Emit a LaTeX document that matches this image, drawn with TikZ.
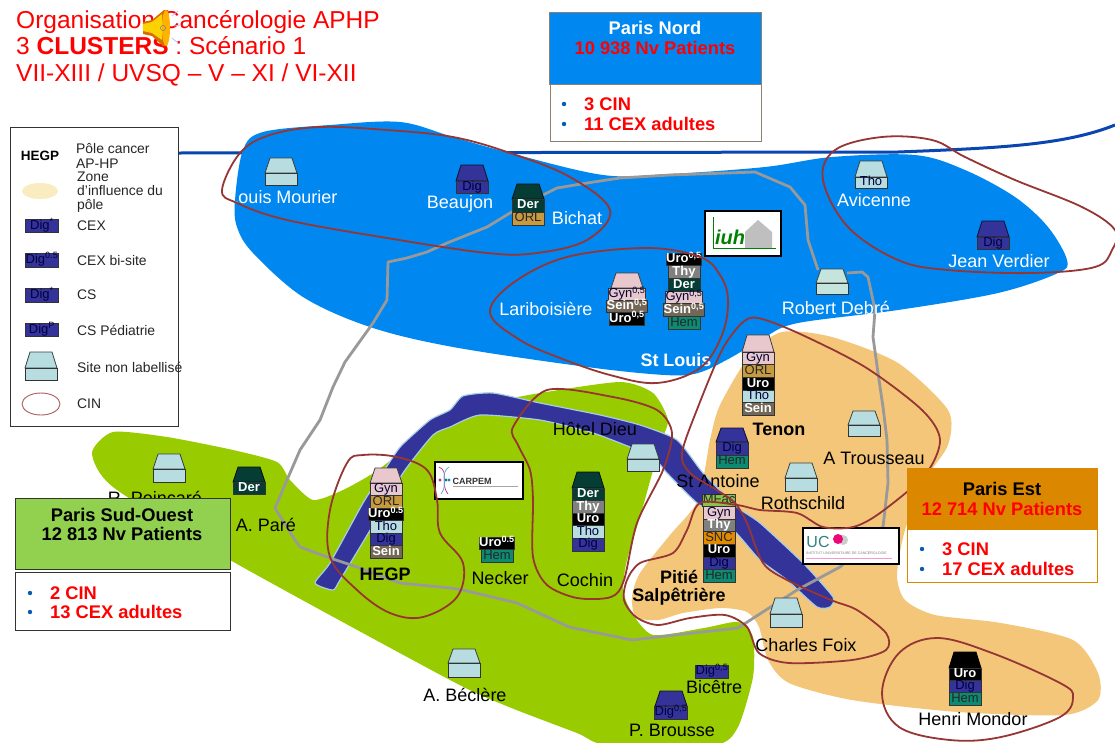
\documentclass[tikz,border=0pt]{standalone}
\usepackage{fontspec}
\setmainfont{Liberation Sans}
\definecolor{nordblue}{HTML}{0087F0}
\definecolor{sudgreen}{HTML}{99CC00}
\definecolor{estorange}{HTML}{F4C67A}
\definecolor{river}{HTML}{333399}
\definecolor{riveredge}{HTML}{A6CDE8}
\definecolor{road}{HTML}{999999}
\definecolor{cinred}{HTML}{963634}
\definecolor{railblue}{HTML}{0B45B0}
\definecolor{tgyn}{HTML}{E8C8CC}
\definecolor{torl}{HTML}{C89A40}
\definecolor{ttho}{HTML}{B8DDE0}
\definecolor{tsein}{HTML}{736858}
\definecolor{them}{HTML}{0C8A72}
\definecolor{tder}{HTML}{053D35}
\definecolor{tthy}{HTML}{808080}
\definecolor{tsnc}{HTML}{E08A00}
\definecolor{tmfac}{HTML}{8BC34A}
\definecolor{tdebre}{HTML}{C4E4DC}
\definecolor{boxsud}{HTML}{92D050}
\definecolor{boxest}{HTML}{DB8700}
\definecolor{bullet}{HTML}{0B5BB5}
\definecolor{edgegray}{HTML}{8C8070}
\definecolor{zonekey}{HTML}{F8ECC0}
\newcommand\fs[1]{\fontsize{#1}{#1}\selectfont}
\newcommand\demiv{\textsuperscript{0,5}}
\newcommand\demip{\textsuperscript{0.5}}
% stack of tags: name, left x, top y, row height, list style/text
\newcommand\stk[5]{\foreach \s/\t [count=\i from 0] in {#5}{\node[tg,\s,minimum height=#4] (#1-\i) at (#2+16,#3+\i*#4+#4/2) {\t};}}
% roof: left x, base y, height, colour
\newcommand\roofc[4]{\draw[fill=#4,draw=black!70!#4,line width=.8] (#1,#2) -- (#1+5,#2-#3) -- (#1+27,#2-#3) -- (#1+32,#2) -- cycle;}
\tikzset{
  x=1pt,y=-1pt,
  tg/.style={draw=black!80,line width=.8,minimum width=32,inner sep=0,text height=8.5,text depth=2,font=\fs{13}},
  gyn/.style={fill=tgyn,text=black!80!blue},
  orl/.style={fill=torl,text=black!85},
  uro/.style={fill=black,text=white,font=\fs{13}\bfseries},
  tho/.style={fill=ttho,text=black!75!blue},
  dig/.style={fill=river,text=black!75!blue},
  sein/.style={fill=tsein,text=white,font=\fs{13}\bfseries},
  hem/.style={fill=them,text=black!85},
  der/.style={fill=tder,text=white,font=\fs{13}\bfseries},
  thy/.style={fill=tthy,text=white,font=\fs{13}\bfseries},
  snc/.style={fill=tsnc,text=black!85},
  mfac/.style={fill=tmfac,text=black!85},
  emptytag/.style={fill=ttho},
  debretag/.style={fill=tdebre},
  lab/.style={font=\fs{18},inner sep=0},
  wlab/.style={lab,text=white},
  blab/.style={lab,font=\fs{18}\bfseries},
  legt/.style={font=\fs{13.9},anchor=west,inner sep=0,text=black!85},
  cin/.style={draw=cinred,line width=1.8},
  infot/.style={font=\fs{18.3}\bfseries,inner sep=0},
  infol/.style={font=\fs{18.3}\bfseries,text=red,anchor=west,inner sep=0},
  titl/.style={font=\fs{24.5},text=red,anchor=base west,inner sep=0},
  logo/.style={draw=black,line width=2.6,fill=white}
}
\begin{document}
\begin{tikzpicture}
\useasboundingbox (0,0) rectangle (1115,742);
\fill[white] (0,0) rectangle (1115,742);
% rail line
\draw[railblue,line width=3] (178,153) -- (898,152) .. controls (1000,148) and (1065,145) .. (1115,125);
% regions
\fill[nordblue] plot[smooth cycle,tension=.55] coordinates {(235,200) (243,150) (263,132) (330,125) (400,122) (453,137) (510,153) (603,175) (670,174) (765,167) (832,157) (915,155) (965,170) (1015,197) (1048,227) (1067,260) (1058,273) (998,293) (898,310) (798,323) (765,337) (732,357) (698,373) (665,375) (587,367) (453,347) (370,327) (303,297) (253,253) (237,227)};
\fill[sudgreen] plot[smooth cycle,tension=.4] coordinates {(92,453) (113,432) (167,437) (233,450) (277,462) (290,480) (313,500) (343,490) (375,472) (410,445) (440,420) (480,405) (540,393) (620,382) (653,393) (668,420) (660,445) (642,510) (627,560) (623,590) (632,613) (653,635) (704,628) (738,622) (753,637) (753,677) (738,727) (715,745) (607,745) (577,733) (509,707) (450,680) (230,560) (113,487)};
\fill[estorange] plot[smooth cycle,tension=.45] coordinates {(782,332) (832,337) (898,363) (948,410) (948,445) (925,480) (905,530) (897,575) (905,600) (935,615) (1001,623) (1073,640) (1098,673) (1098,700) (1064,715) (958,712) (852,700) (789,683) (768,660) (759,627) (747,612) (721,608) (683,613) (658,620) (636,617) (632,597) (640,573) (670,535) (698,500) (710,440) (720,405) (750,355)};
% river
\draw[riveredge,line width=1.2,fill=river] plot[smooth cycle,tension=.35] coordinates {(315,583) (330,563) (363,503) (378,480) (393,457) (402,445) (430,420) (450,410) (463,396) (493,393) (540,403) (600,415) (640,425) (677,440) (703,473) (737,507) (760,523) (803,563) (833,597) (830,607) (817,607) (787,580) (760,560) (740,537) (720,517) (697,503) (667,473) (653,457) (625,445) (590,432) (540,420) (480,415) (450,427) (433,435) (403,473) (372,527) (340,580) (333,590)};
% road
\draw[road,line width=2.8,line join=round] (847,273) -- (862,272) -- (868,277) -- (875,310) -- (873,337) -- (878,373) -- (883,407) -- (887,440) -- (888,483) -- (883,527) -- (840,567) -- (797,590) -- (755,617) -- (738,628) -- (675,635) -- (632,640) -- (569,627) -- (517,603) -- (463,590) -- (450,588) -- (400,583) -- (357,567) -- (330,558) -- (300,547) -- (293,537) -- (275,508) -- (287,480) -- (300,450) -- (320,420) -- (333,387) -- (345,362) -- (373,323) -- (387,300) -- (388,262) -- (407,258) -- (427,252) -- (447,243) -- (467,235) -- (487,227) -- (510,213) -- (543,195) -- (557,188) -- (587,183) -- (620,178) -- (670,175) -- (755,172) -- (790,187) -- (805,205) -- (808,240) -- (818,270);
% labels
\node[wlab] (lmourier) at (283,197) {Louis Mourier};
\node[wlab] (lbeaujon) at (460,204) {Beaujon};
\node[wlab] (lbichat) at (577,218) {Bichat};
\node[wlab] (lavicenne) at (874,200) {Avicenne};
\node[wlab] (lverdier) at (999,261) {Jean Verdier};
\node[wlab] (ldebre) at (836,308) {Robert Debré};
\node[wlab] (llarib) at (546,309) {Lariboisière};
\node[wlab,font=\fs{18}\bfseries] (lstlouis) at (676,360) {St Louis};
\node[blab] (ltenon) at (779,429) {Tenon};
\node[lab] (ltrousseau) at (874,458) {A Trousseau};
\node[lab] (lroth) at (803,503) {Rothschild};
\node[lab] (lantoine) at (718,481) {St Antoine};
\node[blab] (lpitie) at (679,577) {Pitié};
\node[blab] (lsalp) at (679,597) {Salpêtrière};
\node[blab] (lhegp) at (385,574) {HEGP};
\node[lab] (lnecker) at (500,578) {Necker};
\node[lab] (lcochin) at (585,580) {Cochin};
\node[lab] (lhoteld) at (595,429) {Hôtel Dieu};
\node[lab] (lpare) at (266,525) {A. Paré};
\node[lab] (lpoinc) at (155,498) {R. Poincaré};
\node[lab] (lbeclere) at (465,695) {A. Béclère};
\node[lab] (lfoix) at (806,645) {Charles Foix};
\node[lab] (lbicetre) at (714,687) {Bicêtre};
\node[lab] (lbrousse) at (672,730) {P. Brousse};
\node[lab] (lmondor) at (973,719) {Henri Mondor};
% plain sites
\roofc{265}{173}{15}{ttho} \stk{smourier}{265}{173}{12}{emptytag/{}}
\roofc{153}{469}{15}{ttho} \stk{spoinc}{153}{469}{13}{emptytag/{}}
\roofc{627}{459}{15}{ttho} \stk{shoteld}{627}{459}{12}{emptytag/{}}
\roofc{848}{425}{14}{ttho} \stk{strouss}{848}{425}{11}{emptytag/{}}
\roofc{785}{478}{15}{ttho} \stk{sroth}{785}{478}{13}{emptytag/{}}
\roofc{770}{614}{16}{ttho} \stk{sfoix}{770}{614}{13}{emptytag/{}}
\roofc{448}{663}{14}{ttho} \stk{sbeclere}{448}{663}{14}{emptytag/{}}
\roofc{816}{283}{14}{tdebre} \stk{sdebre}{816}{283}{11}{debretag/{}}
% labelled sites
\roofc{855}{177}{16}{ttho} \stk{savic}{855}{177}{11}{tho/Tho}
\roofc{977}{237}{16}{river} \stk{sverdier}{977}{237}{12}{dig/Dig}
\roofc{456}{181}{16}{river} \stk{sbeaujon}{456}{181}{12}{dig/Dig}
\roofc{512}{199}{15}{tder} \stk{sbichat}{512}{199}{13}{der/Der,orl/ORL}
\roofc{611}{288}{15}{tgyn} \stk{slarib}{611}{288}{12.3}{gyn/Gyn\demiv,sein/Sein\demiv,uro/Uro\demiv}
\stk{sstlouis}{668}{253}{12.7}{uro/Uro\demiv,thy/Thy,der/Der,gyn/Gyn\demiv,sein/Sein\demiv,hem/Hem}
\roofc{742}{352}{17}{tgyn} \stk{stenon}{742}{352}{12.7}{gyn/Gyn,orl/ORL,uro/Uro,tho/Tho,sein/Sein}
\roofc{716}{442}{14}{river} \stk{santoine}{716}{442}{13}{dig/Dig,hem/Hem}
\stk{spitie}{703}{494}{12.6}{mfac/MFac,gyn/Gyn,thy/Thy,snc/SNC,uro/Uro,dig/Dig,hem/Hem}
\roofc{572}{488}{16}{tder} \stk{scochin}{572}{488}{12.6}{der/Der,thy/Thy,uro/Uro,tho/Tho,dig/Dig}
\stk{snecker}{481}{537}{12.5}{uro/Uro\demip,hem/Hem}
\roofc{370}{483}{15}{tgyn} \stk{shegp}{370}{483}{12.5}{gyn/Gyn,orl/ORL,uro/Uro\demip,tho/Tho,dig/Dig,sein/Sein}
\roofc{233}{482}{15}{tder} \stk{spare}{233}{482}{12}{der/Der}
\stk{sbicetre}{696}{665}{13}{dig/Dig\demiv}
\roofc{655}{706}{15}{river} \stk{sbrousse}{655}{706}{13}{dig/Dig\demiv}
\roofc{949}{668}{16}{black} \stk{smondor}{949}{668}{12.3}{uro/Uro,dig/Dig,hem/Hem}
% logos
\node[logo,minimum width=76,minimum height=45,inner sep=0] (liuh) at (743,233.5) {};
\fill[black!25] (745,232) -- (758,220) -- (772,232) -- (772,248) -- (745,248) -- cycle;
\draw[green!50!black,line width=.8] (713,217) -- (713,248) -- (776,248);
\node[font=\fs{20}\bfseries\itshape,text=green!50!black,inner sep=0] (tiuh) at (730,237) {iuh};
\node[logo,minimum width=88,minimum height=37,inner sep=0] (lcarpem) at (479,480.5) {};
\node[font=\fs{9}\bfseries,text=black!80,inner sep=0] (tcarpem) at (472,481) {CARPEM};
\draw[magenta!60!violet,line width=.7] (439,467) .. controls (450,472) and (439,482) .. (448,494);
\draw[cyan!60!gray,line width=.7] (449,467) .. controls (439,474) and (449,484) .. (441,494);
\fill[magenta!70!black] (440,480) circle (1.6);
\fill[teal] (446,480) circle (1.6);
\fill[cyan!70!blue] (449,480) circle (1.6);
\draw[black!35,line width=.6] (453,486) -- (518,486);
\node[logo,minimum width=96,minimum height=36,inner sep=0] (luc) at (851,546) {};
\node[font=\fs{16},text=teal!60!gray,inner sep=0] (tuc) at (818,542) {UC};
\fill[gray!40] (843,540) circle (5);
\fill[magenta!80!red] (838,539) circle (5);
\node[font=\fs{3.6},text=gray,inner sep=0,anchor=west] (tucb) at (806,553) {INSTITUT UNIVERSITAIRE DE CANCÉROLOGIE};
\draw[magenta!40,line width=.8] (806,558.5) -- (892,558.5);
% CIN curves
\draw[cin] plot[smooth cycle,tension=.6] coordinates {(222,190) (240,153) (270,135) (320,127) (387,130) (453,137) (510,153) (570,177) (610,210) (587,240) (537,253) (487,253) (387,238) (287,220) (237,203)};
\draw[cin] plot[smooth cycle,tension=.6] coordinates {(490,313) (513,283) (567,257) (647,248) (700,257) (720,275) (728,300) (722,335) (700,368) (657,383) (610,375) (560,358) (520,340)};
\draw[cin] plot[smooth cycle,tension=.6] coordinates {(823,180) (835,150) (882,137) (932,140) (965,157) (1015,180) (1082,207) (1115,230) (1112,250) (1095,267) (1032,273) (948,270) (898,260) (848,227)};
\draw[cin] plot[smooth cycle,tension=.5] coordinates {(698,407) (722,350) (742,323) (758,318) (798,333) (865,367) (922,410) (940,440) (925,475) (880,513) (853,527) (823,527) (797,513) (760,510) (737,505) (700,503) (687,530) (673,553) (640,563) (627,580) (624,600) (636,617) (658,625) (690,618) (725,615) (747,627) (759,653) (789,663) (852,660) (886,650) (886,633) (857,610) (831,600) (787,580) (763,563) (747,523) (735,503) (720,492) (690,473) (682,453)};
\draw[cin] plot[smooth cycle,tension=.6] coordinates {(882,693) (899,653) (937,638) (992,653) (1060,683) (1073,697) (1060,717) (1001,737) (950,740) (899,727)};
\draw[cin] plot[smooth cycle,tension=.5] coordinates {(513,427) (547,390) (613,397) (657,410) (672,433) (663,470) (637,523) (624,580) (611,597) (577,598) (547,585) (533,557) (533,500) (530,470) (518,445)};
\draw[cin] plot[smooth cycle,tension=.6] coordinates {(330,510) (347,463) (363,455) (397,457) (427,470) (437,500) (440,533) (463,563) (457,597) (423,617) (390,613) (357,590) (330,557)};
% title
\node[titl] (title1) at (16,28) {Organisation Cancérologie APHP};
\node[titl] (title2) at (16,54) {3 \textbf{CLUSTERS} : Scénario 1};
\node[titl] (title3) at (16,81) {VII-XIII / UVSQ – V – XI / VI-XII};
% speaker icon
\fill[orange!85!black] (143,22) -- (152,20) -- (164,10) -- (168,10) -- (170,28) -- (167,46) -- (163,46) -- (152,36) -- (143,34) -- cycle;
\fill[yellow!70!orange] (143,24) -- (152,22) -- (162,14) -- (162,40) -- (152,33) -- (143,31) -- cycle;
\fill[orange!60!yellow] (166,28) ellipse (4 and 18);
\draw[black!50,line width=.6] (163,28) circle (2.5);
\draw[blue!25,line width=.8] (172,16) -- (178,11) (174,26) -- (181,25) (172,38) -- (178,43);
% legend
\draw[black!80,line width=.8,fill=white] (10,127) rectangle (178,426);
\node[font=\fs{13.5}\bfseries,inner sep=0] (lhegpkey) at (40,156) {HEGP};
\node[legt] (k1) at (76,149) {Pôle cancer};
\node[legt] (k2) at (76,164) {AP-HP};
\node[legt] (k3) at (77,177) {Zone};
\node[legt] (k4) at (77,191) {d'influence du};
\node[legt] (k5) at (77,206) {pôle};
\fill[zonekey] (40,191) ellipse (18 and 8);
\node[tg,dig,minimum width=33,minimum height=13] (kdig1) at (42,226) {Dig\textsuperscript{*}};
\node[tg,dig,minimum width=33,minimum height=14] (kdig2) at (42,260) {Dig\demip};
\node[tg,dig,minimum width=33,minimum height=14] (kdig3) at (42,295) {Dig\textsuperscript{*}};
\node[tg,dig,minimum width=33,minimum height=13] (kdig4) at (42,330) {Dig\textsuperscript{P}};
\node[legt] (k6) at (77,226) {CEX};
\node[legt] (k7) at (77,261) {CEX bi-site};
\node[legt] (k8) at (77,295) {CS};
\node[legt] (k9) at (77,330) {CS Pédiatrie};
\roofc{25}{368}{16}{ttho} \stk{ksite}{25}{368}{12}{emptytag/{}}
\node[legt] (k10) at (77,367) {Site non labellisé};
\node[legt] (k11) at (77,404) {CIN};
\draw[cinred!80,line width=.9] (41,404) ellipse (19 and 11);
% info boxes
\draw[edgegray,line width=.8,fill=nordblue] (549,12) rectangle (761,84);
\draw[edgegray,line width=.8,fill=white] (550,84) rectangle (761,141);
\node[infot,text=white] (nord1) at (655,28) {Paris Nord};
\node[infot,text=red] (nord2) at (655,48) {10 938 Nv Patients};
\fill[bullet] (564,104) circle (2.2) (564,124) circle (2.2);
\node[infol] (nord3) at (584,104) {3 CIN};
\node[infol] (nord4) at (584,124) {11 CEX adultes};
\draw[black!80,line width=.8,fill=boxsud] (15,498) rectangle (230,569);
\draw[black!80,line width=.8,fill=white] (15,572) rectangle (230,630);
\node[infot] (sud1) at (122,515) {Paris Sud-Ouest};
\node[infot] (sud2) at (122,534) {12 813 Nv Patients};
\fill[bullet] (30,593) circle (2.2) (30,612) circle (2.2);
\node[infol] (sud3) at (50,593) {2 CIN};
\node[infol] (sud4) at (50,612) {13 CEX adultes};
\draw[boxest,line width=.8,fill=boxest] (907,468) rectangle (1097,529);
\draw[boxest,line width=.8,fill=white] (907,529) rectangle (1097,582);
\node[infot] (est1) at (1002,489) {Paris Est};
\node[infot,text=red] (est2) at (1002,509) {12 714 Nv Patients};
\fill[bullet] (922,549) circle (2.2) (922,569) circle (2.2);
\node[infol] (est3) at (942,549) {3 CIN};
\node[infol] (est4) at (942,569) {17 CEX adultes};
\end{tikzpicture}
\end{document}
